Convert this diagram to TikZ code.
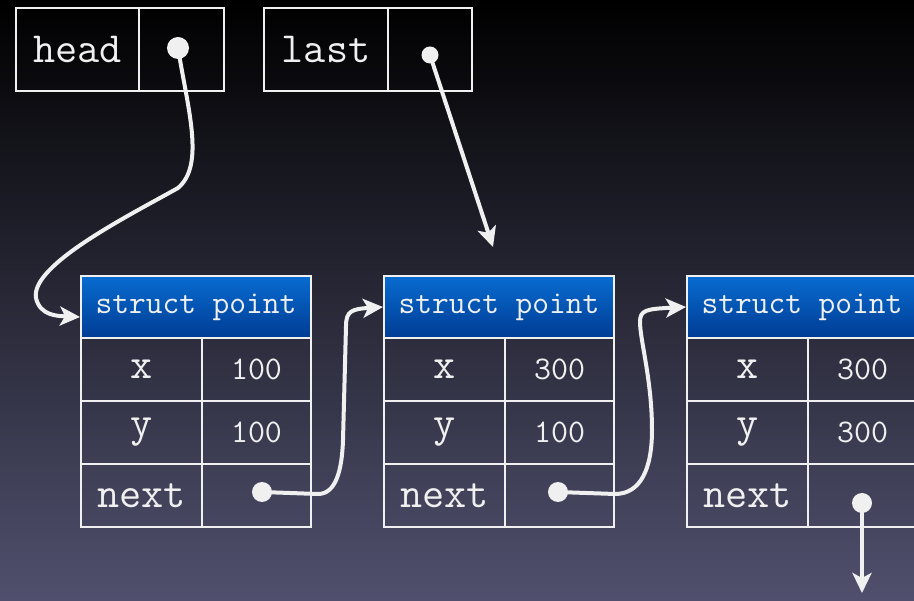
\documentclass[tikz,border=0pt]{standalone}
\usetikzlibrary{arrows.meta}
\definecolor{bgtop}{RGB}{0,0,0}
\definecolor{bgmid}{RGB}{20,20,50}
\definecolor{bgbot}{RGB}{80,80,110}
\definecolor{hdrtop}{RGB}{8,108,208}
\definecolor{hdrbot}{RGB}{0,60,148}
\definecolor{ink}{RGB}{240,240,240}
\tikzset{
  box/.style={draw=ink, line width=2pt, inner sep=0pt, text=ink, anchor=north west},
  bigtext/.style={font=\ttfamily\fontsize{43}{43}\selectfont},
  smalltext/.style={font=\ttfamily\fontsize{33}{33}\selectfont},
  hdr/.style={box, top color=hdrtop, bottom color=hdrbot, minimum width=230pt, minimum height=62pt, font=\ttfamily\fontsize{32.5}{32.5}\selectfont},
  dot/.style={circle, fill=ink, inner sep=0pt, minimum size=#1},
  link/.style={draw=ink, line width=4pt, line cap=round, -{Stealth[length=20pt, width=19pt, inset=5pt]}}
}
\begin{document}
\begin{tikzpicture}[x=1pt, y=-1pt]
  \useasboundingbox (0,0) rectangle (914,601);
  \clip (0,0) rectangle (914,601);
  \shade[top color=bgtop, middle color=bgmid, bottom color=bgbot] (0,0) rectangle (914,601);
  % variables
  \node[box, bigtext, minimum width=123pt, minimum height=83pt] (head) at (15,7) {head};
  \node[box, minimum width=85pt, minimum height=83pt] (headcell) at (138,7) {};
  \node[box, bigtext, minimum width=124pt, minimum height=83pt] (last) at (263,7) {last};
  \node[box, minimum width=84pt, minimum height=83pt] (lastcell) at (387,7) {};
  \node[dot=22pt] (headptr) at (178,48) {};
  \node[dot=17pt] (lastptr) at (430,55) {};
  % the three structs
  \foreach \n/\x/\xv/\yv in {1/80/100/100, 2/383/300/100, 3/686/300/300} {
    \node[hdr] (p\n) at (\x,275) {struct point};
    \node[box, bigtext, minimum width=121pt, minimum height=63pt] (p\n x) at (\x,337) {x};
    \node[box, smalltext, minimum width=109pt, minimum height=63pt] (p\n xv) at (\x+121,337) {\xv};
    \node[box, bigtext, minimum width=121pt, minimum height=63pt] (p\n y) at (\x,400) {y};
    \node[box, smalltext, minimum width=109pt, minimum height=63pt] (p\n yv) at (\x+121,400) {\yv};
    \node[box, bigtext, minimum width=121pt, minimum height=63pt] (p\n next) at (\x,463) {next};
    \node[box, minimum width=109pt, minimum height=63pt] (p\n nv) at (\x+121,463) {};
  }
  \node[dot=20pt] (p1ptr) at (262,492) {};
  \node[dot=20pt] (p2ptr) at (558,492) {};
  \node[dot=20pt] (p3ptr) at (862,503) {};
  \coordinate (lastend) at (493,247);
  \coordinate (p3end) at (862,593);
  % pointers
  \draw[link] (headptr.center) .. controls (188,110) and (205,165) .. (178,188)
    .. controls (130,215) and (30,265) .. (36,298)
    .. controls (40,316) and (58,316) .. ([yshift=-10pt]p1.west);
  \draw[link] (lastptr.center) -- (lastend);
  \draw[link] (p1ptr.center) -- (318,494) .. controls (336,494) and (342,470) .. (343,440)
    -- (346,326) .. controls (346,311) and (352,309) .. (p2.west);
  \draw[link] (p2ptr.center) -- (615,494) .. controls (640,494) and (652,470) .. (652,430)
    .. controls (652,380) and (640,340) .. (640,322) .. controls (640,310) and (646,309) .. (p3.west);
  \draw[link] (p3ptr.center) -- (p3end);
\end{tikzpicture}
\end{document}
